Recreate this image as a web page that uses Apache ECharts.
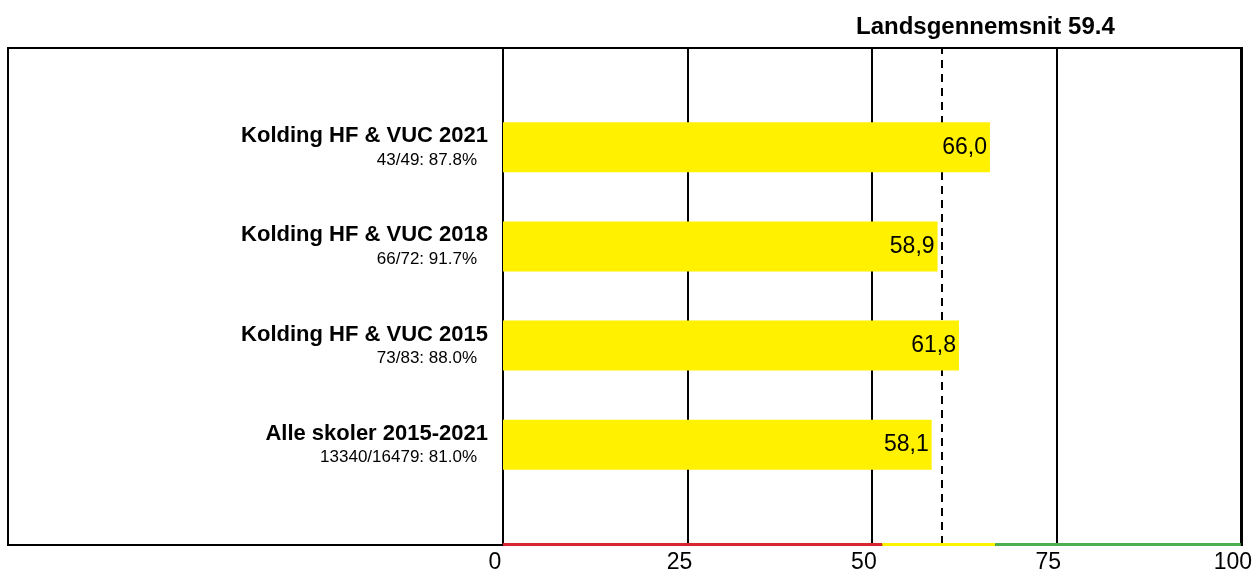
<!DOCTYPE html>
<html>
<head>
<meta charset="utf-8">
<title>Landsgennemsnit</title>
<script src="https://cdn.jsdelivr.net/npm/echarts@6/dist/echarts.min.js"></script>
<style>
  html, body { margin: 0; padding: 0; background: #fff; }
  #chart { width: 1255px; height: 574px; }
</style>
</head>
<body>
<div id="chart"></div>
<script>
// kategorier nedefra og op, tomme pladser i hver ende
const schools = ['', 'Alle skoler 2015-2021', 'Kolding HF & VUC 2015', 'Kolding HF & VUC 2018', 'Kolding HF & VUC 2021', ''];
const responses = ['', '13340/16479: 81.0%', '73/83: 88.0%', '66/72: 91.7%', '43/49: 87.8%', ''];
const scores = ['-', 58.1, 61.8, 58.9, 66.0, '-'];
const nationalAvg = 59.4;
// farvezoner på x-aksen
const zoneEdges = [0, 51.4, 66.7, 100];
const zoneColors = ['#d7282f', '#fff200', '#4caf50'];
const xTicks = [0, 25, 50, 75, 100];

const font = 'Arial, "Liberation Sans", Helvetica, sans-serif';

const zoneLines = zoneColors.map((c, i) => [
  { coord: [zoneEdges[i], 0], lineStyle: { color: c } },
  { coord: [zoneEdges[i + 1], 0] },
]);

const chart = echarts.init(document.getElementById('chart'));
chart.setOption({
  animation: false,
  textStyle: { fontFamily: font },
  title: {
    text: `Landsgennemsnit ${nationalAvg}`,
    left: 851,
    top: 10,
    textStyle: { fontFamily: font, fontSize: 24, fontWeight: 'bold', color: '#000' },
  },
  grid: [
    { left: 503, right: 13, top: 48, bottom: 29, containLabel: false },
    // ydre ramme
    { left: 8, right: 13, top: 48, bottom: 29, show: true, borderColor: '#000', borderWidth: 2, backgroundColor: 'transparent' },
  ],
  xAxis: [
    {
      type: 'value',
      min: xTicks[0],
      max: xTicks[xTicks.length - 1],
      interval: 25,
      axisLine: { show: false },
      axisTick: { show: false },
      splitLine: { show: true, lineStyle: { color: '#000', width: 2 } },
      axisLabel: {
        color: '#000',
        fontSize: 23,
        margin: 7,
        padding: [0, 16, 0, 0],
      },
    },
    { gridIndex: 1, type: 'value', show: false },
  ],
  yAxis: [
    {
      type: 'category',
      data: schools,
      boundaryGap: false,
      axisLine: { show: true, lineStyle: { color: '#000', width: 2 } },
      axisTick: { show: false },
      splitLine: { show: false },
      axisLabel: {
        margin: 15,
        interval: 0,
        formatter: (v, i) => v ? `{name|${v}}\n{sub|${responses[i]}}` : '',
        rich: {
          name: { fontFamily: font, fontSize: 22, fontWeight: 'bold', color: '#000', lineHeight: 26, align: 'right' },
          sub: { fontFamily: font, fontSize: 17, color: '#000', lineHeight: 22, align: 'right', padding: [0, 11, 0, 0] },
        },
      },
    },
    { gridIndex: 1, type: 'value', show: false },
  ],
  series: [
    {
      // landsgennemsnit, stiplet linje bag søjlerne
      type: 'line',
      data: [],
      z: 1,
      markLine: {
        z: 1,
        silent: true,
        symbol: 'none',
        label: { show: false },
        lineStyle: { color: '#000', width: 2, type: [8, 6] },
        data: [{ xAxis: nationalAvg }],
      },
    },
    {
      type: 'bar',
      data: scores,
      barWidth: 50,
      z: 3,
      itemStyle: { color: '#fff100' },
      label: {
        show: true,
        position: 'insideRight',
        distance: 3,
        color: '#000',
        fontSize: 23,
        fontFamily: font,
        formatter: p => p.value.toFixed(1).replace('.', ','),
      },
    },
    {
      // farvet bundlinje
      type: 'line',
      data: [],
      z: 5,
      markLine: {
        z: 6,
        silent: true,
        symbol: 'none',
        label: { show: false },
        lineStyle: { width: 3, type: 'solid' },
        data: zoneLines,
      },
    },
  ],
});
</script>
</body>
</html>
